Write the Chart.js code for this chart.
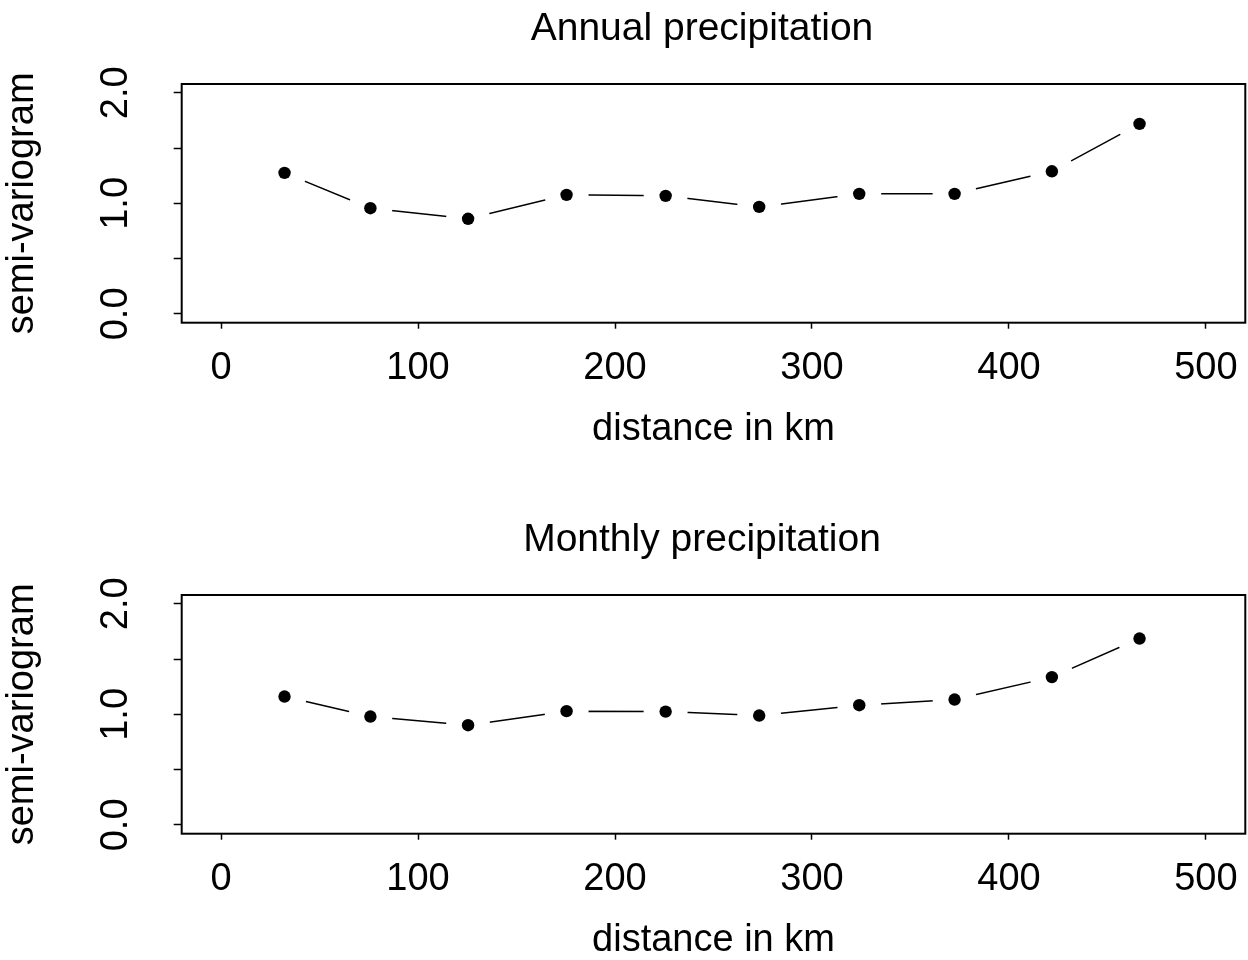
<!DOCTYPE html>
<html>
<head>
<meta charset="utf-8">
<title>Semi-variograms</title>
<script src="https://cdn.jsdelivr.net/npm/chart.js@4"></script>
<style>
    body { margin: 0; background: #fff; }
    .panel { position: absolute; left: 0; width: 1248px; height: 450px; }
</style>
</head>
<body>
<div class="panel" style="top:0"><canvas id="annualChart" width="1248" height="450"></canvas></div>
<div class="panel" style="top:511px"><canvas id="monthlyChart" width="1248" height="450"></canvas></div>
<script>
// lag distances (km)
const distanceKm = [32.2, 75.8, 125.4, 175.4, 225.7, 273.2, 324.0, 372.4, 421.8, 466.3];
// semi-variogram estimates
const annualGamma = [1.276, 0.956, 0.860, 1.077, 1.068, 0.968, 1.086, 1.086, 1.290, 1.719];
const monthlyGamma = [1.161, 0.980, 0.902, 1.029, 1.025, 0.989, 1.083, 1.134, 1.337, 1.686];

const xTicks = [0, 100, 200, 300, 400, 500];
const yTicks = [0, 0.5, 1, 1.5, 2];
const yTickLabels = ['0.0', '', '1.0', '', '2.0'];

const FONT = 'Liberation Sans, Arial, Helvetica, sans-serif';
const PLOT_LEFT = 181.7;   // left edge of the plot box
const PAD_LEFT = 158.7;    // shifts the main title like R does

document.addEventListener('DOMContentLoaded', () => {
    Chart.defaults.font.family = FONT;
    Chart.defaults.color = '#000';

    // R-style box around the plot region
    const framePlugin = {
        id: 'frame',
        afterDraw(chart) {
            const { ctx, chartArea: a } = chart;
            ctx.save();
            ctx.strokeStyle = '#000';
            ctx.lineWidth = 2;
            ctx.strokeRect(a.left, a.top, a.right - a.left, a.bottom - a.top);
            ctx.restore();
        }
    };

    function makePanel(canvasId, titleText, values) {
        const pts = distanceKm.map((d, i) => ({ x: d, y: values[i] }));
        const ctx = document.getElementById(canvasId).getContext('2d');

        return new Chart(ctx, {
            type: 'scatter',
            data: {
                datasets: [
                    {   // points
                        data: pts,
                        order: 0,
                        showLine: false,
                        pointRadius: 6.2,
                        pointBackgroundColor: '#000',
                        pointBorderWidth: 0
                    },
                    {   // white gap round each point (type = "b")
                        data: pts,
                        order: 1,
                        showLine: false,
                        pointRadius: 22,
                        pointBackgroundColor: '#fff',
                        pointBorderWidth: 0
                    },
                    {   // connecting line
                        data: pts,
                        order: 2,
                        showLine: true,
                        borderColor: '#000',
                        borderWidth: 1.5,
                        pointRadius: 0,
                        fill: false
                    }
                ]
            },
            options: {
                responsive: false,
                animation: false,
                events: [],
                layout: { autoPadding: false, padding: { left: PAD_LEFT, right: 2.7, top: 0, bottom: 0 } },
                plugins: {
                    legend: { display: false },
                    tooltip: { enabled: false },
                    title: {
                        display: true,
                        text: titleText,
                        color: '#000',
                        font: { size: 39, weight: 'normal', lineHeight: 1.2 },
                        padding: { top: 6.2, bottom: 31.0 }
                    }
                },
                scales: {
                    x: {
                        type: 'linear',
                        min: -20,
                        max: 520,
                        afterBuildTicks: axis => { axis.ticks = xTicks.map(v => ({ value: v })); },
                        afterFit: axis => { axis.height = 127.3; axis.paddingLeft = 0; axis.paddingRight = 0; },
                        border: { display: false },
                        grid: { drawOnChartArea: false, drawTicks: true, tickLength: 6, tickColor: '#000', tickWidth: 1.5 },
                        ticks: {
                            autoSkip: false,
                            maxRotation: 0,
                            padding: 17.5,
                            color: '#000',
                            font: { size: 38, lineHeight: 1.2 },
                            callback: v => String(v)
                        },
                        title: {
                            display: true,
                            text: 'distance in km',
                            color: '#000',
                            font: { size: 38, lineHeight: 1.2 },
                            padding: { top: 0, bottom: -2.5 }
                        }
                    },
                    y: {
                        type: 'linear',
                        min: -0.08,
                        max: 2.08,
                        afterBuildTicks: axis => { axis.ticks = yTicks.map(v => ({ value: v })); },
                        afterFit: axis => { axis.width = PLOT_LEFT - PAD_LEFT; axis.paddingTop = 0; axis.paddingBottom = 0; },
                        border: { display: false },
                        grid: { drawOnChartArea: false, drawTicks: true, tickLength: 8, tickColor: '#000', tickWidth: 1.5 },
                        ticks: {
                            autoSkip: false,
                            minRotation: 90,
                            maxRotation: 90,
                            crossAlign: 'center',
                            // mirror avoids clipping to the narrow axis box; negative padding puts labels back outside
                            mirror: true,
                            padding: -91.3,
                            color: '#000',
                            font: { size: 38, lineHeight: 1.2 },
                            callback: (v, i) => yTickLabels[i]
                        },
                        title: {
                            display: true,
                            text: 'semi-variogram',
                            color: '#000',
                            font: { size: 38, lineHeight: 1 },
                            // title sits left of the layout padding
                            padding: { top: 3.5 - PAD_LEFT, bottom: 0 }
                        }
                    }
                }
            },
            plugins: [framePlugin]
        });
    }

    makePanel('annualChart', 'Annual precipitation', annualGamma);
    makePanel('monthlyChart', 'Monthly precipitation', monthlyGamma);
});
</script>
</body>
</html>
